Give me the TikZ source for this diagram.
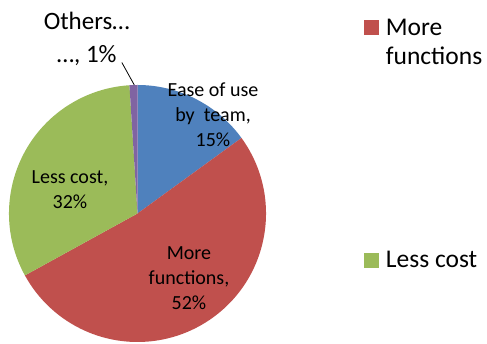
\documentclass[tikz,border=0pt]{standalone}
\usepackage{fontspec}
\setmainfont{Carlito}
\definecolor{easeblue}{HTML}{4F81BD}
\definecolor{morered}{HTML}{C0504D}
\definecolor{lessgreen}{HTML}{9BBB59}
\definecolor{otherpurple}{HTML}{8064A2}
\begin{document}
\begin{tikzpicture}[x=1pt, y=1pt, inner sep=0pt,
  slicelabel/.style={align=center, font=\fontsize{20}{25}\selectfont},
  legendbox/.style={minimum size=15pt, inner sep=0pt},
  legendtext/.style={align=left, anchor=north west, font=\fontsize{25.5}{28.5}\selectfont}]
  \useasboundingbox (0,0) rectangle (487,344);
  \coordinate (C) at (137.5,130.5);

  % slices, clockwise from the top
  \foreach \from/\to/\col in {90/36/easeblue, 36/-151.2/morered,
      -151.2/-266.4/lessgreen, -266.4/-270/otherpurple}
    \fill[\col] (C) -- ++(\from:128.5) arc[start angle=\from, end angle=\to, radius=128.5] -- cycle;

  \node[slicelabel] (ease) at (213,229.3) {Ease of use\\by\ \ team,\\15\%};
  \node[slicelabel] (less) at (70,154.7) {Less cost,\\32\%};
  \node[slicelabel] (more) at (189,65.5) {More\\functions,\\52\%};
  \node[align=center, font=\fontsize{25}{33}\selectfont] (others) at (86.7,305) {Others…\\…, 1\%};
  \coordinate (othersTip) at (134.3,259);
  \draw[line width=0.8pt] ([xshift=-8pt, yshift=3.5pt]others.south east) -- (othersTip);

  % legend
  \node[legendbox, fill=morered] (sqMore) at (371.5,316.8) {};
  \node[legendtext] (legMore) at (385.7,324.7) {More\\functions};
  \node[legendbox, fill=lessgreen] (sqLess) at (371.5,83.8) {};
  \node[legendtext, anchor=base west] (legLess) at (385.7,76.3) {Less cost};
\end{tikzpicture}
\end{document}
